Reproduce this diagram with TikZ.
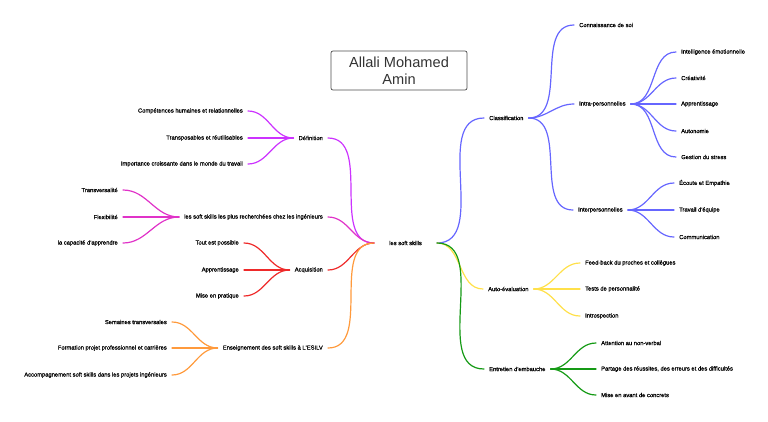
\documentclass[tikz,border=0pt]{standalone}
\usepackage{fontspec}
\setmainfont{Liberation Sans}
\newfontfamily\mapfont[FakeBold=0.8]{Liberation Sans}
\usepackage{xcolor}
\definecolor{DefViolet}{HTML}{CC33FF}
\definecolor{RechPink}{HTML}{E033C8}
\definecolor{AcqRed}{HTML}{EE2A2A}
\definecolor{EnsOrange}{HTML}{FF9A3C}
\definecolor{ClsBlue}{HTML}{6666FF}
\definecolor{AutoYellow}{HTML}{FFE04A}
\definecolor{EntGreen}{HTML}{159A15}
\definecolor{TitleGray}{HTML}{333333}
\tikzset{
  txt/.style      = {font=\mapfont\fontsize{5.8}{7}\selectfont, inner xsep=5pt, inner ysep=1pt},
  lft/.style      = {txt, anchor=east},
  rgt/.style      = {txt, anchor=west},
  linkln/.style   = {line width=1.2pt, line cap=round},
  titlebox/.style = {draw=gray!60!black, rounded corners=2pt, line width=0.7pt,
                     minimum width=136pt, minimum height=39pt, align=center,
                     text=TitleGray, font=\fontsize{14.6}{17}\selectfont}
}

\begin{document}
\begin{tikzpicture}[x=1pt,y=-1pt]
  \useasboundingbox (0,0) rectangle (768,421);
  % centre and title
  \node[txt, inner xsep=15pt] (soft) at (405.5,243) {les soft skills};
  \node[titlebox] (title) at (399,70.5) {Allali Mohamed\\Amin};

  % left side
  \node[lft] (def)    at (328,138) {Définition};
  \node[lft] (comp)   at (248,111) {Compétences humaines et relationnelles};
  \node[lft] (transp) at (248,138) {Transposables et réutilisables};
  \node[lft] (impo)   at (248,164) {Importance croissante dans le monde du travail};

  \node[lft] (rech)   at (328,217) {les soft skills les plus recherchées chez les ingénieurs};
  \node[lft] (transv) at (123,190) {Transversalité};
  \node[lft] (flex)   at (123,217) {Flexibilité};
  \node[lft] (capa)   at (123,243) {la capacité d'apprendre};

  \node[lft] (acq)    at (328,270) {Acquisition};
  \node[lft] (tout)   at (244,243) {Tout est possible};
  \node[lft] (appr)   at (244,270) {Apprentissage};
  \node[lft] (mise)   at (244,296) {Mise en pratique};

  \node[lft] (ens)    at (328,348) {Enseignement des soft skills à L'ESILV};
  \node[lft] (sem)    at (172,322) {Semaines transversales};
  \node[lft] (form)   at (172,348) {Formation projet professionnel et carrières};
  \node[lft] (accomp) at (172,375) {Accompagnement soft skills dans les projets ingénieurs};

  % right side
  \node[rgt] (cls)    at (484,118) {Classification};
  \node[rgt] (conn)   at (574,25)  {Connaissance de soi};
  \node[rgt] (intra)  at (574,104) {Intra-personnelles};
  \node[rgt] (inter)  at (573,210) {Interpersonnelles};
  \node[rgt] (intel)  at (676,52)  {Intelligence émotionnelle};
  \node[rgt] (crea)   at (676,78)  {Créativité};
  \node[rgt] (apprb)  at (676,104) {Apprentissage};
  \node[rgt] (auton)  at (676,131) {Autonomie};
  \node[rgt] (gest)   at (676,157) {Gestion du stress};
  \node[rgt] (ecou)   at (674,183) {Écoute et Empathie};
  \node[rgt] (trav)   at (674,210) {Travail d'équipe};
  \node[rgt] (comm)   at (674,237) {Communication};

  \node[rgt] (autoev) at (483,289) {Auto-évaluation};
  \node[rgt] (feed)   at (580,263) {Feed-back du proches et collègues};
  \node[rgt] (tests)  at (580,289) {Tests de personnalité};
  \node[rgt] (intro)  at (580,316) {Introspection};

  \node[rgt] (entr)   at (484,369) {Entretien d'embauche};
  \node[rgt] (atten)  at (596,343) {Attention au non-verbal};
  \node[rgt] (parta)  at (596,369) {Partage des réussites, des erreurs et des difficultés};
  \node[rgt] (misav)  at (596,395) {Mise en avant de concrets};

  % links, left
  \draw[linkln,DefViolet] (soft.west) to[out=180,in=0] (def.east);
  \draw[linkln,DefViolet] (def.west) to[out=180,in=0] (comp.east);
  \draw[linkln,DefViolet] (def.west) to[out=180,in=0] (transp.east);
  \draw[linkln,DefViolet] (def.west) to[out=180,in=0] (impo.east);
  \draw[linkln,RechPink] (soft.west) to[out=180,in=0] (rech.east);
  \draw[linkln,RechPink] (rech.west) to[out=180,in=0] (transv.east);
  \draw[linkln,RechPink] (rech.west) to[out=180,in=0] (flex.east);
  \draw[linkln,RechPink] (rech.west) to[out=180,in=0] (capa.east);
  \draw[linkln,AcqRed] (soft.west) to[out=180,in=0] (acq.east);
  \draw[linkln,AcqRed] (acq.west) to[out=180,in=0] (tout.east);
  \draw[linkln,AcqRed] (acq.west) to[out=180,in=0] (appr.east);
  \draw[linkln,AcqRed] (acq.west) to[out=180,in=0] (mise.east);
  \draw[linkln,EnsOrange] (soft.west) to[out=180,in=0] (ens.east);
  \draw[linkln,EnsOrange] (ens.west) to[out=180,in=0] (sem.east);
  \draw[linkln,EnsOrange] (ens.west) to[out=180,in=0] (form.east);
  \draw[linkln,EnsOrange] (ens.west) to[out=180,in=0] (accomp.east);

  % links, right
  \draw[linkln,ClsBlue] (soft.east) to[out=0,in=180] (cls.west);
  \draw[linkln,ClsBlue] (cls.east) to[out=0,in=180] (conn.west);
  \draw[linkln,ClsBlue] (cls.east) to[out=0,in=180] (intra.west);
  \draw[linkln,ClsBlue] (cls.east) to[out=0,in=180] (inter.west);
  \draw[linkln,ClsBlue] (intra.east) to[out=0,in=180] (intel.west);
  \draw[linkln,ClsBlue] (intra.east) to[out=0,in=180] (crea.west);
  \draw[linkln,ClsBlue] (intra.east) to[out=0,in=180] (apprb.west);
  \draw[linkln,ClsBlue] (intra.east) to[out=0,in=180] (auton.west);
  \draw[linkln,ClsBlue] (intra.east) to[out=0,in=180] (gest.west);
  \draw[linkln,ClsBlue] (inter.east) to[out=0,in=180] (ecou.west);
  \draw[linkln,ClsBlue] (inter.east) to[out=0,in=180] (trav.west);
  \draw[linkln,ClsBlue] (inter.east) to[out=0,in=180] (comm.west);
  \draw[linkln,AutoYellow] (soft.east) to[out=0,in=180] (autoev.west);
  \draw[linkln,AutoYellow] (autoev.east) to[out=0,in=180] (feed.west);
  \draw[linkln,AutoYellow] (autoev.east) to[out=0,in=180] (tests.west);
  \draw[linkln,AutoYellow] (autoev.east) to[out=0,in=180] (intro.west);
  \draw[linkln,EntGreen] (soft.east) to[out=0,in=180] (entr.west);
  \draw[linkln,EntGreen] (entr.east) to[out=0,in=180] (atten.west);
  \draw[linkln,EntGreen] (entr.east) to[out=0,in=180] (parta.west);
  \draw[linkln,EntGreen] (entr.east) to[out=0,in=180] (misav.west);
\end{tikzpicture}
\end{document}
